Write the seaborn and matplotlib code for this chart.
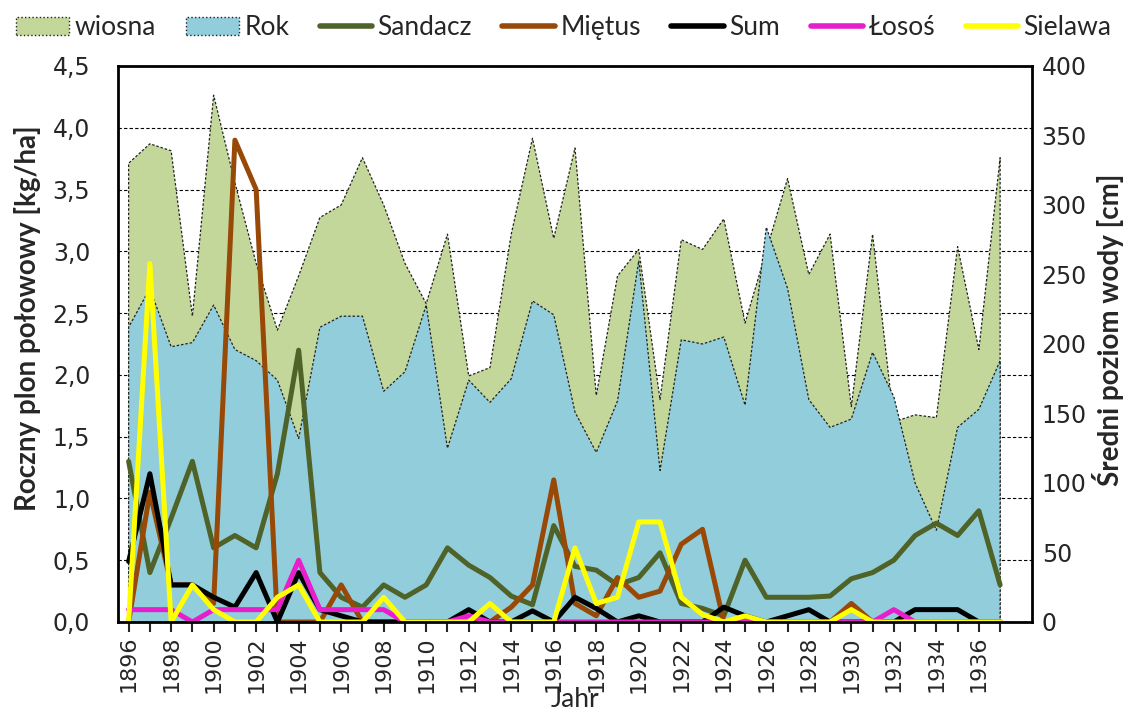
import numpy as np
import pandas as pd
import matplotlib
matplotlib.use('Agg')
import matplotlib.pyplot as plt
import seaborn as sns
from matplotlib.patches import Patch
from matplotlib.lines import Line2D
from matplotlib.ticker import FuncFormatter

# lata
years = list(range(1896, 1938))

# poziom wody [cm] - os prawa
wiosna = [330, 344, 339, 220, 379, 316, 258, 210, 249, 291,
          300, 334, 300, 258, 229, 279, 177, 183, 279, 348,
          276, 341, 163, 249, 268, 160, 275, 268, 290, 215,
          267, 319, 250, 279, 155, 279, 144, 149, 147, 270,
          196, 334]
rok = [212, 240, 198, 201, 228, 196, 188, 174, 132, 212,
       220, 220, 166, 180, 228, 125, 174, 158, 175, 231,
       221, 151, 122, 159, 260, 109, 203, 200, 205, 156,
       284, 240, 160, 140, 146, 194, 162, 100, 66, 140,
       153, 188]

# plon [kg/ha] - os lewa
sandacz = [1.3, 0.4, 0.84, 1.3, 0.6, 0.7, 0.6, 1.2, 2.2, 0.4,
           0.2, 0.12, 0.3, 0.2, 0.3, 0.6, 0.46, 0.36, 0.21, 0.14,
           0.78, 0.45, 0.42, 0.3, 0.36, 0.56, 0.15, 0.11, 0.05, 0.5,
           0.2, 0.2, 0.2, 0.21, 0.35, 0.4, 0.5, 0.7, 0.8, 0.7,
           0.9, 0.3]
mietus = [0, 1.05, 0.3, 0.3, 0.15, 3.9, 3.5, 0, 0, 0,
          0.3, 0, 0, 0, 0, 0, 0, 0, 0.12, 0.3,
          1.15, 0.15, 0.05, 0.36, 0.2, 0.25, 0.63, 0.75, 0, 0,
          0, 0, 0, 0, 0.15, 0, 0, 0, 0, 0,
          0, 0]
sum_ = [0.49, 1.2, 0.3, 0.3, 0.2, 0.12, 0.4, 0, 0.4, 0.1,
        0.05, 0, 0, 0, 0, 0, 0.1, 0, 0, 0.09,
        0, 0.2, 0.11, 0, 0.05, 0, 0, 0, 0.12, 0.05,
        0, 0.05, 0.1, 0, 0, 0, 0, 0.1, 0.1, 0.1,
        0, 0]
losos = [0.1, 0.1, 0.1, 0, 0.1, 0.1, 0.1, 0.1, 0.5, 0.1,
         0.1, 0.1, 0.1, 0, 0, 0, 0.05, 0, 0, 0,
         0, 0, 0, 0, 0, 0, 0, 0, 0, 0,
         0, 0, 0, 0, 0, 0, 0.1, 0, 0, 0,
         0, 0]
sielawa = [0, 2.9, 0, 0.3, 0.1, 0, 0, 0.2, 0.3, 0,
           0, 0, 0.2, 0, 0, 0, 0, 0.15, 0, 0,
           0, 0.6, 0.15, 0.2, 0.81, 0.81, 0.2, 0.06, 0, 0.05,
           0, 0, 0, 0, 0.1, 0, 0, 0, 0, 0,
           0, 0]

df = pd.DataFrame({'Jahr': years, 'wiosna': wiosna, 'Rok': rok,
                   'Sandacz': sandacz, 'Miętus': mietus, 'Sum': sum_,
                   'Łosoś': losos, 'Sielawa': sielawa})

serie = ['Sandacz', 'Miętus', 'Sum', 'Łosoś', 'Sielawa']
kolory = ['#4F6228', '#984807', '#000000', '#E61ECB', '#FFFF00']

sns.set_style('white')
plt.rcParams['font.family'] = ['Lato', 'DejaVu Sans']

fig = plt.figure(figsize=(11.28, 7.17), dpi=100)
ax = fig.add_axes([0.1046, 0.1325, 0.8103, 0.7755])
ax2 = ax.twinx()   # obszary (poziom wody)
ax3 = ax.twinx()   # linie (plon)

# siatka na spodzie
ax.set_ylim(0, 4.5)
ax.set_yticks(np.arange(0, 4.51, 0.5))
ax.yaxis.grid(True, linestyle=(0, (3, 2)), color='black', linewidth=0.8)
ax.xaxis.grid(False)
ax.tick_params(axis='y', left=False, labelleft=False, right=False, labelright=False)
for s in ax.spines.values():
    s.set_visible(False)

# obszary
kraw = dict(edgecolor='#222222', linestyle=(0, (2, 1.5)), linewidth=0.9)
ax2.fill_between(df.Jahr, df.wiosna, color='#C4D79B', **kraw)
ax2.fill_between(df.Jahr, df.Rok, color='#92CDDC', **kraw)
ax2.set_ylim(0, 400)
ax2.set_yticks(range(0, 401, 50))
ax2.tick_params(axis='y', right=False, length=0, labelsize=17, pad=7,
                labelfontfamily='DejaVu Sans')
ax2.set_ylabel('Średni poziom wody [cm]', fontsize=20, fontweight='bold')
ax2.yaxis.set_label_coords(1.066, 0.525)
for s in ax2.spines.values():
    s.set_visible(False)

# linie
for nazwa, kol in zip(serie, kolory):
    sns.lineplot(data=df, x='Jahr', y=nazwa, ax=ax3, color=kol, linewidth=3.6)
ax3.set_ylim(0, 4.5)
ax3.set_yticks(np.arange(0, 4.51, 0.5))
ax3.yaxis.tick_left()
ax3.yaxis.set_label_position('left')
ax3.yaxis.set_major_formatter(FuncFormatter(lambda v, p: f'{v:.1f}'.replace('.', ',')))
ax3.tick_params(axis='y', left=False, length=0, labelsize=17, pad=20,
                labelfontfamily='DejaVu Sans')
ax3.set_ylabel('Roczny plon połowowy [kg/ha]', fontsize=20, fontweight='bold')
ax3.yaxis.set_label_coords(-0.084, 0.547)
for s in ax3.spines.values():
    s.set_visible(True)
    s.set_color('black')
    s.set_linewidth(2)

# os x
ax.set_xlim(1895.5, 1938.5)
ax.set_xticks(years)
ax.set_xticklabels([str(y) if (y - 1896) % 2 == 0 else '' for y in years], rotation=90)
ax.tick_params(axis='x', bottom=True, direction='out', length=7, width=1.5, pad=3,
               labelsize=16, labelfontfamily='DejaVu Sans')
ax.set_xlabel('Jahr', fontsize=19, labelpad=-4)

# legenda
uchwyty = [Patch(facecolor='#C4D79B', edgecolor='#222222', linestyle=':', linewidth=1, label='wiosna'),
           Patch(facecolor='#92CDDC', edgecolor='#222222', linestyle=':', linewidth=1, label='Rok')]
uchwyty += [Line2D([0], [0], color=k, linewidth=4, label=n) for n, k in zip(serie, kolory)]
fig.legend(handles=uchwyty, loc='upper center', bbox_to_anchor=(0.5, 1.012), ncol=7,
           frameon=False, fontsize=19, handlelength=2.0, handleheight=0.7,
           handletextpad=0.2, columnspacing=1.15)

fig.savefig('out.png', dpi=100)
